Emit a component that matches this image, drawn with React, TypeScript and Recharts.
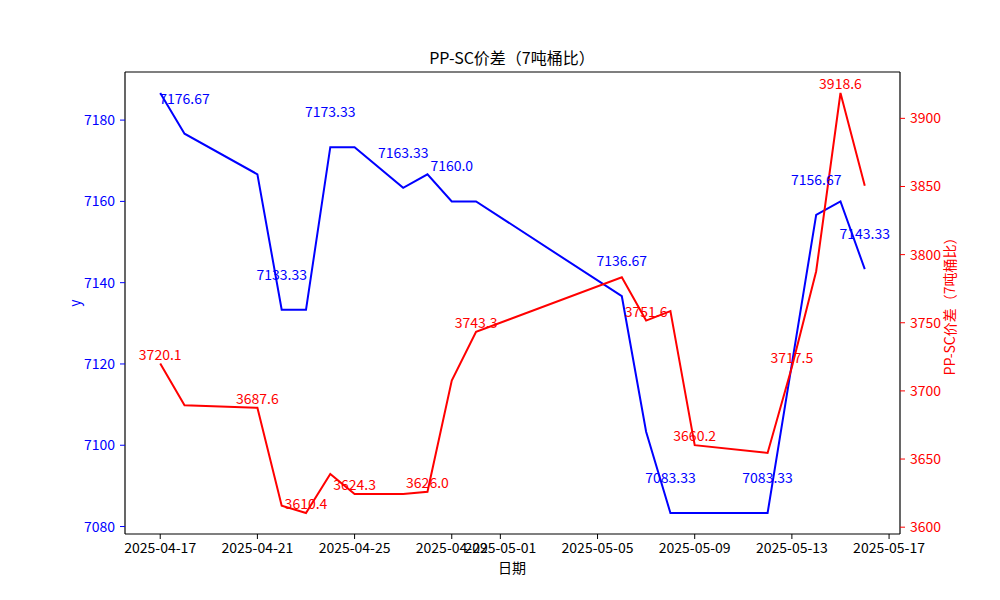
import React from 'react';
import { LineChart, Line, XAxis, YAxis, LabelList, ReferenceLine, Customized } from 'recharts';

const dates = ['2025-04-17','2025-04-18','2025-04-21','2025-04-22','2025-04-23','2025-04-24','2025-04-25','2025-04-27','2025-04-28','2025-04-29','2025-04-30','2025-05-06','2025-05-07','2025-05-08','2025-05-09','2025-05-12','2025-05-13','2025-05-14','2025-05-15','2025-05-16'];
const ppValues = [7186.67,7176.67,7166.67,7133.33,7133.33,7173.33,7173.33,7163.33,7166.67,7160.0,7160.0,7136.67,7103.33,7083.33,7083.33,7083.33,7120.0,7156.67,7160.0,7143.33];
const spreadValues = [3720.1,3689.4,3687.6,3615.8,3610.4,3639.1,3624.3,3624.3,3626.0,3707.6,3743.3,3783.4,3751.6,3758.6,3660.2,3654.5,3717.5,3787.8,3918.6,3850.6];
const xTickLabels = ['2025-04-17','2025-04-21','2025-04-25','2025-04-29','2025-05-01','2025-05-05','2025-05-09','2025-05-13','2025-05-17'];
const leftTicks = [7080,7100,7120,7140,7160,7180];
const rightTicks = [3600,3650,3700,3750,3800,3850,3900];

const DAY = 86400000;
const toTs = (s: string) => Date.parse(s + 'T00:00:00Z');
const fmt = (t: number) => new Date(t).toISOString().slice(0, 10);

const data = dates.map((d, i) => ({ t: toTs(d), pp: ppValues[i], spread: spreadValues[i] }));

const pad = (arr: number[]) => {
  const mn = Math.min(...arr), mx = Math.max(...arr);
  const m = (mx - mn) * 0.05;
  return [mn - m, mx + m];
};
const tMin = toTs(dates[0]), tMax = toTs(dates[dates.length - 1]);
const tPad = (tMax - tMin) * 0.05;
const xDomain = [tMin - tPad, tMax + tPad];
const leftDomain = pad(ppValues);
const rightDomain = pad(spreadValues);

const FONT = '"Noto Sans CJK SC", "DejaVu Sans", sans-serif';

const BlueLabel = (p: any) => {
  if (p.index % 2 !== 1) return null;
  return (
    <text x={p.x} y={p.y - 30} textAnchor="middle" fill="#0000ff" fontSize={14} fontFamily={FONT}>
      {String(p.value === 7160 ? '7160.0' : p.value)}
    </text>
  );
};
const RedLabel = (p: any) => {
  if (p.index % 2 !== 0) return null;
  const v = Number(p.value);
  return (
    <text x={p.x} y={p.y - 4} textAnchor="middle" fill="#ff0000" fontSize={14} fontFamily={FONT}>
      {v.toFixed(1)}
    </text>
  );
};

const Titles = () => (
  <g fontFamily={FONT}>
    <text x={512} y={64} textAnchor="middle" fontSize={16} fill="#000">PP-SC价差（7吨桶比）</text>
    <text x={512} y={573} textAnchor="middle" fontSize={14} fill="#000">日期</text>
    <text x={0} y={0} transform="translate(80,303) rotate(-90)" textAnchor="middle" fontSize={14} fill="#0000ff">y</text>
    <text x={0} y={0} transform="translate(955,303) rotate(-90)" textAnchor="middle" fontSize={14} fill="#ff0000">PP-SC价差（7吨桶比）</text>
  </g>
);

export default function App() {
  return (
    <div style={{ position: 'absolute', left: 0, top: 0, width: 1000, height: 600, background: '#fff' }}>
      <LineChart width={1000} height={600} data={data} margin={{ top: 72, right: 40, bottom: 36, left: 65 }}>
        <XAxis
          dataKey="t"
          type="number"
          scale="time"
          domain={xDomain}
          ticks={xTickLabels.map(toTs)}
          tickFormatter={fmt}
          interval={0}
          height={30}
          tickSize={5}
          tickMargin={4}
          axisLine={{ stroke: '#000', strokeWidth: 1.2 }}
          tickLine={{ stroke: '#000' }}
          tick={{ fill: '#000', fontSize: 14, fontFamily: FONT }}
          allowDataOverflow
        />
        <YAxis
          yAxisId="left"
          orientation="left"
          domain={leftDomain}
          ticks={leftTicks}
          width={60}
          tickSize={5}
          tickMargin={5}
          interval={0}
          axisLine={{ stroke: '#000', strokeWidth: 1.2 }}
          tickLine={{ stroke: '#0000ff' }}
          tick={{ fill: '#0000ff', fontSize: 14, fontFamily: FONT }}
          allowDataOverflow
        />
        <YAxis
          yAxisId="right"
          orientation="right"
          domain={rightDomain}
          ticks={rightTicks}
          width={60}
          tickSize={5}
          tickMargin={5}
          interval={0}
          axisLine={{ stroke: '#000', strokeWidth: 1.2 }}
          tickLine={{ stroke: '#ff0000' }}
          tick={{ fill: '#ff0000', fontSize: 14, fontFamily: FONT }}
          allowDataOverflow
        />
        <ReferenceLine yAxisId="left" y={leftDomain[1]} stroke="#000" strokeWidth={1.2} />
        <Line yAxisId="left" type="linear" dataKey="pp" stroke="#0000ff" strokeWidth={2} dot={false} isAnimationActive={false}>
          <LabelList dataKey="pp" content={BlueLabel} />
        </Line>
        <Line yAxisId="right" type="linear" dataKey="spread" stroke="#ff0000" strokeWidth={2} dot={false} isAnimationActive={false}>
          <LabelList dataKey="spread" content={RedLabel} />
        </Line>
        <Customized component={Titles} />
      </LineChart>
    </div>
  );
}
